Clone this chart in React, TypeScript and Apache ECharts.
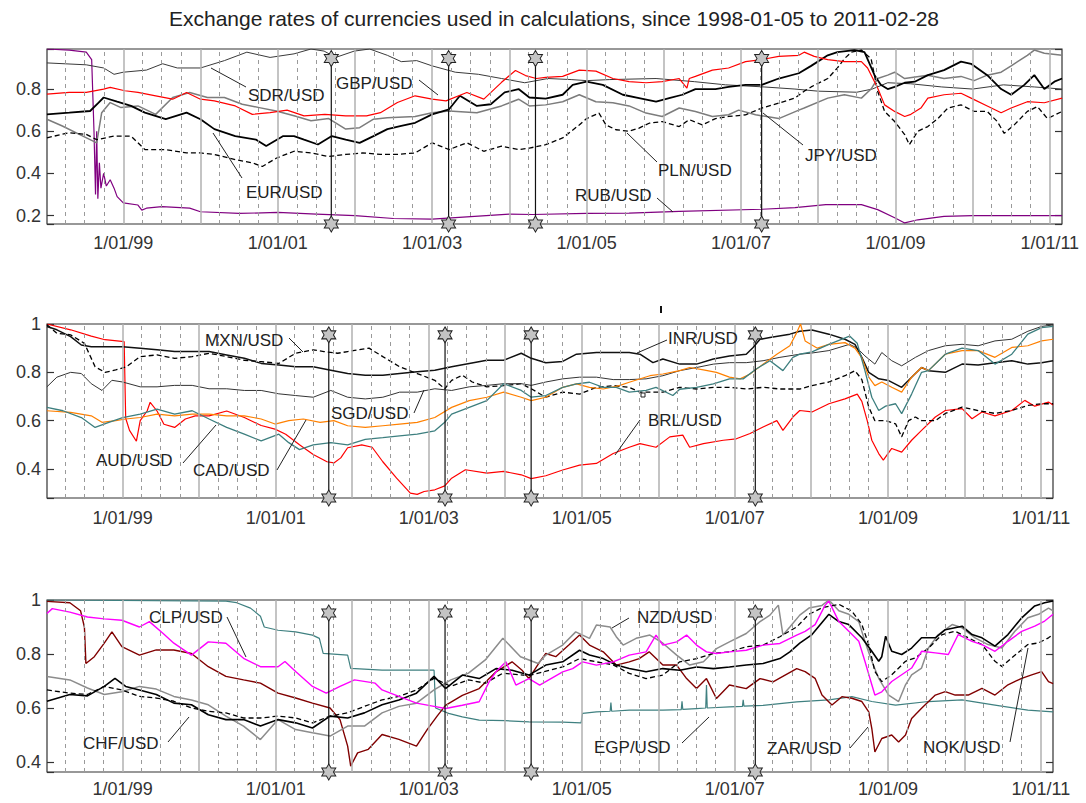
import React, { useEffect, useRef } from 'react';
import * as echarts from 'echarts';

const TITLE = 'Exchange rates of currencies used in calculations, since 1998-01-05 to 2011-02-28';
const START = [1998, 0, 5];
const END = [2011, 1, 28];
const xTickYears = [1999, 2001, 2003, 2005, 2007, 2009, 2011];
const xTickLabels = ['1/01/99', '1/01/01', '1/01/03', '1/01/05', '1/01/07', '1/01/09', '1/01/11'];
const eventDates = [[2001, 8, 11], [2003, 2, 20], [2004, 4, 4], [2007, 3, 9]];
const panelRanges = [[0.16, 0.99], [0.28, 1.0], [0.363, 1.0]];
const eventTopValues = [0.945, 0.955, 0.952];

// ---- Panel 1 (decimal year, normalised rate)
const rub = [[1998.01,0.99],[1998.3,0.985],[1998.52,0.975],[1998.59,0.94],[1998.62,0.6],[1998.64,0.3],[1998.655,0.6],[1998.67,0.28],[1998.69,0.45],[1998.71,0.33],[1998.745,0.4],[1998.78,0.34],[1998.83,0.37],[1998.88,0.33],[1998.92,0.29],[1999.0,0.26],[1999.19,0.25],[1999.24,0.226],[1999.3,0.235],[1999.5,0.242],[1999.86,0.235],[2000.0,0.218],[2000.5,0.21],[2001.0,0.215],[2001.5,0.207],[2002.0,0.2],[2002.5,0.186],[2003.0,0.183],[2003.5,0.195],[2004.0,0.207],[2004.3,0.205],[2005.0,0.21],[2005.55,0.212],[2006.2,0.22],[2007.27,0.23],[2007.7,0.238],[2008.1,0.252],[2008.56,0.252],[2008.77,0.228],[2008.99,0.19],[2009.12,0.165],[2009.29,0.18],[2009.63,0.196],[2010.0,0.2],[2011.16,0.2]];
const sdr = [[1998.01,0.924],[1998.52,0.915],[1998.745,0.9],[1998.88,0.87],[1999.0,0.88],[1999.3,0.89],[1999.51,0.92],[1999.7,0.9],[2000.0,0.9],[2000.31,0.935],[2000.6,0.975],[2000.9,0.95],[2001.21,0.967],[2001.43,0.99],[2001.6,0.98],[2001.75,0.95],[2001.99,0.98],[2002.19,0.99],[2002.42,0.96],[2002.6,0.93],[2002.8,0.935],[2003.0,0.91],[2003.3,0.88],[2003.6,0.87],[2003.9,0.85],[2004.2,0.83],[2004.5,0.85],[2004.8,0.845],[2005.0,0.84],[2005.3,0.845],[2005.9,0.85],[2006.4,0.835],[2006.8,0.82],[2007.3,0.81],[2007.7,0.8],[2008.0,0.79],[2008.5,0.785],[2008.7,0.8],[2008.9,0.83],[2009.2,0.825],[2009.6,0.81],[2010.0,0.8],[2010.4,0.82],[2010.8,0.81],[2011.16,0.8]];
const gbp = [[1998.01,0.776],[1998.3,0.784],[1998.52,0.784],[1998.745,0.8],[1998.83,0.808],[1999.02,0.792],[1999.19,0.784],[1999.42,0.768],[1999.64,0.752],[1999.82,0.784],[2000.0,0.752],[2000.18,0.744],[2000.45,0.72],[2000.67,0.68],[2000.9,0.688],[2001.12,0.7],[2001.34,0.673],[2001.61,0.68],[2001.88,0.673],[2002.15,0.673],[2002.33,0.688],[2002.55,0.736],[2002.78,0.768],[2003.0,0.752],[2003.18,0.744],[2003.45,0.784],[2003.67,0.752],[2003.9,0.832],[2004.08,0.888],[2004.21,0.864],[2004.35,0.85],[2004.47,0.855],[2004.69,0.86],[2004.905,0.89],[2005.12,0.885],[2005.34,0.85],[2005.55,0.835],[2005.77,0.83],[2005.98,0.835],[2006.2,0.85],[2006.3,0.805],[2006.33,0.85],[2006.41,0.86],[2006.63,0.89],[2006.84,0.9],[2007.06,0.93],[2007.27,0.94],[2007.49,0.955],[2007.75,0.96],[2007.82,0.975],[2007.95,0.955],[2008.125,0.94],[2008.34,0.93],[2008.56,0.93],[2008.64,0.9],[2008.77,0.805],[2008.86,0.725],[2008.99,0.694],[2009.12,0.67],[2009.2,0.68],[2009.33,0.71],[2009.42,0.757],[2009.63,0.773],[2009.85,0.78],[2010.02,0.75],[2010.19,0.72],[2010.37,0.688],[2010.5,0.71],[2010.71,0.74],[2010.93,0.735],[2011.16,0.757]];
const eur = [[1998.01,0.68],[1998.3,0.688],[1998.57,0.696],[1998.68,0.736],[1998.745,0.76],[1998.92,0.74],[1999.1,0.72],[1999.28,0.688],[1999.55,0.657],[1999.82,0.688],[2000.0,0.657],[2000.18,0.61],[2000.45,0.577],[2000.72,0.56],[2000.85,0.53],[2001.07,0.577],[2001.21,0.577],[2001.34,0.56],[2001.52,0.537],[2001.7,0.577],[2001.88,0.56],[2002.06,0.545],[2002.24,0.577],[2002.42,0.61],[2002.6,0.625],[2002.78,0.64],[2003.0,0.68],[2003.22,0.704],[2003.36,0.768],[2003.58,0.72],[2003.76,0.728],[2003.94,0.784],[2004.12,0.8],[2004.26,0.76],[2004.47,0.755],[2004.69,0.773],[2004.82,0.82],[2005.0,0.835],[2005.21,0.82],[2005.47,0.773],[2005.68,0.757],[2005.9,0.74],[2006.07,0.757],[2006.24,0.773],[2006.41,0.8],[2006.67,0.8],[2006.84,0.81],[2007.06,0.82],[2007.27,0.82],[2007.49,0.85],[2007.75,0.875],[2007.91,0.91],[2008.125,0.96],[2008.25,0.975],[2008.47,0.985],[2008.6,0.975],[2008.73,0.866],[2008.81,0.82],[2008.9,0.8],[2008.99,0.81],[2009.12,0.83],[2009.25,0.835],[2009.42,0.866],[2009.63,0.89],[2009.85,0.93],[2009.98,0.92],[2010.19,0.866],[2010.37,0.8],[2010.5,0.773],[2010.67,0.82],[2010.8,0.866],[2010.93,0.8],[2011.06,0.835],[2011.16,0.85]];
const jpy = [[1998.01,0.657],[1998.21,0.625],[1998.43,0.585],[1998.655,0.545],[1998.72,0.688],[1998.83,0.736],[1998.97,0.712],[1999.19,0.72],[1999.42,0.68],[1999.64,0.76],[1999.86,0.784],[2000.09,0.76],[2000.31,0.76],[2000.54,0.728],[2000.76,0.712],[2000.98,0.696],[2001.21,0.673],[2001.43,0.65],[2001.66,0.66],[2001.88,0.61],[2002.06,0.617],[2002.24,0.657],[2002.42,0.664],[2002.78,0.67],[2003.0,0.688],[2003.22,0.696],[2003.58,0.688],[2003.9,0.72],[2004.12,0.752],[2004.26,0.72],[2004.47,0.725],[2004.69,0.74],[2004.905,0.773],[2005.12,0.74],[2005.34,0.735],[2005.55,0.72],[2005.77,0.686],[2005.98,0.67],[2006.2,0.71],[2006.41,0.694],[2006.63,0.67],[2006.84,0.678],[2006.97,0.7],[2007.19,0.678],[2007.49,0.66],[2007.75,0.7],[2007.82,0.71],[2008.125,0.757],[2008.34,0.773],[2008.56,0.757],[2008.685,0.8],[2008.77,0.85],[2008.9,0.866],[2008.99,0.88],[2009.12,0.85],[2009.42,0.866],[2009.63,0.85],[2009.85,0.86],[2010.02,0.84],[2010.19,0.866],[2010.37,0.88],[2010.5,0.91],[2010.71,0.96],[2010.8,0.985],[2010.93,0.97],[2011.16,0.96]];
const pln = [[1998.01,0.569],[1998.3,0.593],[1998.52,0.585],[1998.655,0.56],[1998.88,0.577],[1999.1,0.577],[1999.28,0.513],[1999.55,0.513],[1999.82,0.497],[2000.0,0.497],[2000.18,0.49],[2000.45,0.465],[2000.67,0.45],[2000.8,0.433],[2000.985,0.473],[2001.21,0.505],[2001.43,0.497],[2001.66,0.48],[2001.88,0.49],[2002.1,0.497],[2002.33,0.49],[2002.55,0.49],[2002.78,0.497],[2003.0,0.545],[2003.22,0.513],[2003.45,0.545],[2003.67,0.505],[2003.9,0.529],[2004.12,0.513],[2004.26,0.52],[2004.47,0.536],[2004.69,0.568],[2004.905,0.63],[2005.0,0.66],[2005.16,0.686],[2005.25,0.63],[2005.38,0.607],[2005.55,0.6],[2005.68,0.615],[2005.81,0.638],[2005.98,0.646],[2006.2,0.622],[2006.33,0.655],[2006.5,0.63],[2006.67,0.66],[2006.84,0.67],[2007.06,0.678],[2007.27,0.71],[2007.49,0.733],[2007.7,0.757],[2007.82,0.79],[2007.91,0.81],[2008.125,0.85],[2008.25,0.9],[2008.34,0.944],[2008.43,0.975],[2008.56,0.985],[2008.685,0.944],[2008.77,0.79],[2008.86,0.694],[2008.99,0.646],[2009.12,0.584],[2009.18,0.536],[2009.29,0.6],[2009.42,0.622],[2009.55,0.66],[2009.68,0.71],[2009.85,0.725],[2010.02,0.694],[2010.19,0.694],[2010.32,0.646],[2010.41,0.59],[2010.54,0.63],[2010.71,0.694],[2010.84,0.717],[2010.97,0.66],[2011.16,0.694]];

// ---- Panel 2
const brl = [[1998.01,1.0],[1998.32,0.976],[1998.59,0.95],[1998.77,0.935],[1999.02,0.927],[1999.04,0.61],[1999.09,0.56],[1999.18,0.515],[1999.23,0.6],[1999.32,0.64],[1999.36,0.676],[1999.45,0.64],[1999.54,0.585],[1999.68,0.572],[1999.82,0.607],[1999.95,0.62],[2000.13,0.62],[2000.36,0.64],[2000.59,0.613],[2000.81,0.58],[2000.99,0.565],[2001.13,0.544],[2001.31,0.5],[2001.49,0.46],[2001.67,0.43],[2001.76,0.425],[2001.85,0.446],[2001.94,0.488],[2002.125,0.5],[2002.26,0.49],[2002.4,0.43],[2002.58,0.362],[2002.76,0.3],[2002.85,0.295],[2002.94,0.307],[2003.08,0.314],[2003.21,0.33],[2003.3,0.362],[2003.48,0.397],[2003.76,0.383],[2003.98,0.39],[2004.21,0.376],[2004.34,0.36],[2004.53,0.372],[2004.75,0.396],[2004.97,0.416],[2005.19,0.423],[2005.41,0.464],[2005.62,0.49],[2005.76,0.505],[2005.97,0.49],[2006.15,0.533],[2006.32,0.54],[2006.41,0.49],[2006.59,0.505],[2006.85,0.519],[2007.02,0.525],[2007.2,0.547],[2007.37,0.574],[2007.55,0.6],[2007.63,0.56],[2007.76,0.615],[2007.85,0.642],[2008.01,0.636],[2008.23,0.67],[2008.44,0.69],[2008.6,0.71],[2008.66,0.68],[2008.73,0.6],[2008.79,0.519],[2008.88,0.464],[2008.94,0.437],[2009.05,0.485],[2009.18,0.47],[2009.31,0.519],[2009.44,0.56],[2009.62,0.615],[2009.75,0.642],[2009.97,0.65],[2010.1,0.608],[2010.23,0.636],[2010.4,0.62],[2010.62,0.642],[2010.79,0.684],[2010.92,0.66],[2011.1,0.677],[2011.16,0.665]];
const inr = [[1998.01,0.99],[1998.14,0.976],[1998.32,0.948],[1998.46,0.913],[1998.59,0.906],[1998.77,0.906],[1999.0,0.906],[1999.23,0.9],[1999.45,0.893],[1999.68,0.886],[2000.13,0.886],[2000.36,0.872],[2000.59,0.858],[2000.81,0.837],[2001.04,0.83],[2001.26,0.823],[2001.49,0.823],[2001.72,0.809],[2001.94,0.795],[2002.17,0.788],[2002.4,0.788],[2002.62,0.795],[2002.85,0.802],[2003.08,0.809],[2003.3,0.823],[2003.53,0.837],[2003.76,0.85],[2003.98,0.85],[2004.21,0.879],[2004.34,0.858],[2004.53,0.84],[2004.75,0.845],[2004.93,0.875],[2005.19,0.882],[2005.62,0.882],[2005.76,0.875],[2005.93,0.84],[2006.06,0.855],[2006.28,0.834],[2006.5,0.834],[2006.72,0.855],[2006.93,0.868],[2007.15,0.875],[2007.24,0.903],[2007.33,0.937],[2007.46,0.944],[2007.72,0.958],[2007.85,0.97],[2008.01,0.975],[2008.23,0.958],[2008.44,0.937],[2008.57,0.916],[2008.66,0.862],[2008.75,0.8],[2008.88,0.773],[2009.01,0.766],[2009.18,0.738],[2009.31,0.78],[2009.44,0.82],[2009.53,0.807],[2009.75,0.8],[2009.97,0.834],[2010.18,0.83],[2010.4,0.84],[2010.62,0.848],[2010.83,0.834],[2011.01,0.84],[2011.16,0.848]];
const sgd = [[1998.01,0.74],[1998.14,0.78],[1998.32,0.8],[1998.46,0.795],[1998.59,0.753],[1998.73,0.725],[1998.86,0.767],[1999.0,0.76],[1999.23,0.74],[1999.45,0.74],[1999.68,0.746],[1999.91,0.746],[2000.13,0.732],[2000.36,0.732],[2000.59,0.725],[2000.81,0.725],[2001.04,0.711],[2001.26,0.704],[2001.49,0.697],[2001.72,0.725],[2001.94,0.697],[2002.17,0.69],[2002.4,0.697],[2002.62,0.718],[2002.85,0.718],[2003.08,0.732],[2003.3,0.725],[2003.53,0.74],[2003.76,0.746],[2003.98,0.753],[2004.21,0.753],[2004.34,0.746],[2004.53,0.76],[2004.75,0.773],[2004.97,0.78],[2005.19,0.78],[2005.41,0.77],[2005.62,0.77],[2005.84,0.773],[2006.06,0.786],[2006.28,0.807],[2006.5,0.82],[2006.72,0.834],[2006.93,0.84],[2007.15,0.84],[2007.37,0.848],[2007.59,0.862],[2007.85,0.875],[2008.01,0.88],[2008.23,0.89],[2008.5,0.916],[2008.6,0.9],[2008.7,0.868],[2008.83,0.834],[2008.92,0.882],[2009.05,0.848],[2009.18,0.827],[2009.36,0.862],[2009.53,0.89],[2009.75,0.91],[2009.97,0.916],[2010.18,0.91],[2010.4,0.93],[2010.62,0.937],[2010.83,0.97],[2011.01,0.99],[2011.16,0.996]];
const mxn = [[1998.01,0.997],[1998.14,0.962],[1998.32,0.955],[1998.5,0.92],[1998.64,0.823],[1998.77,0.8],[1998.91,0.81],[1999.05,0.823],[1999.23,0.865],[1999.45,0.872],[1999.68,0.858],[1999.91,0.865],[2000.13,0.879],[2000.36,0.865],[2000.59,0.85],[2000.81,0.844],[2001.04,0.837],[2001.26,0.879],[2001.49,0.893],[2001.63,0.886],[2001.81,0.879],[2001.94,0.886],[2002.22,0.9],[2002.4,0.865],[2002.62,0.823],[2002.85,0.795],[2003.08,0.767],[2003.21,0.732],[2003.3,0.767],[2003.44,0.788],[2003.57,0.76],[2003.76,0.74],[2003.98,0.745],[2004.21,0.753],[2004.34,0.732],[2004.53,0.697],[2004.75,0.718],[2004.97,0.71],[2005.19,0.738],[2005.41,0.745],[2005.62,0.738],[2005.76,0.718],[2006.06,0.718],[2006.28,0.738],[2006.5,0.731],[2006.72,0.738],[2006.93,0.738],[2007.15,0.731],[2007.37,0.738],[2007.59,0.731],[2007.85,0.731],[2008.01,0.745],[2008.23,0.76],[2008.44,0.786],[2008.57,0.807],[2008.66,0.77],[2008.75,0.656],[2008.83,0.6],[2008.97,0.6],[2009.1,0.587],[2009.18,0.533],[2009.27,0.6],[2009.36,0.615],[2009.44,0.6],[2009.62,0.6],[2009.75,0.63],[2009.97,0.656],[2010.18,0.642],[2010.4,0.63],[2010.62,0.642],[2010.83,0.663],[2011.01,0.67],[2011.16,0.67]];
const cad = [[1998.01,0.641],[1998.32,0.634],[1998.59,0.62],[1998.73,0.593],[1998.91,0.6],[1999.04,0.607],[1999.23,0.613],[1999.45,0.627],[1999.68,0.62],[1999.91,0.627],[2000.13,0.627],[2000.36,0.62],[2000.59,0.62],[2000.81,0.607],[2000.99,0.586],[2001.17,0.6],[2001.36,0.607],[2001.58,0.593],[2001.76,0.6],[2001.94,0.579],[2002.17,0.572],[2002.4,0.579],[2002.62,0.586],[2002.85,0.593],[2003.08,0.613],[2003.3,0.655],[2003.53,0.683],[2003.76,0.697],[2003.98,0.718],[2004.21,0.697],[2004.34,0.683],[2004.53,0.697],[2004.75,0.738],[2004.93,0.752],[2005.1,0.738],[2005.28,0.731],[2005.49,0.745],[2005.62,0.759],[2005.89,0.786],[2006.06,0.793],[2006.28,0.807],[2006.41,0.82],[2006.59,0.81],[2006.76,0.8],[2006.93,0.78],[2007.07,0.773],[2007.2,0.793],[2007.37,0.834],[2007.55,0.875],[2007.72,0.91],[2007.8,0.958],[2007.86,1.0],[2007.92,0.93],[2008.08,0.9],[2008.23,0.916],[2008.44,0.923],[2008.57,0.9],[2008.66,0.86],[2008.75,0.78],[2008.83,0.745],[2008.92,0.76],[2009.05,0.738],[2009.18,0.718],[2009.31,0.78],[2009.44,0.82],[2009.53,0.807],[2009.75,0.875],[2009.97,0.89],[2010.18,0.89],[2010.4,0.862],[2010.62,0.903],[2010.83,0.91],[2011.01,0.93],[2011.16,0.937]];
const aud = [[1998.01,0.655],[1998.22,0.641],[1998.46,0.613],[1998.64,0.572],[1998.82,0.593],[1999.0,0.613],[1999.23,0.627],[1999.45,0.648],[1999.68,0.627],[1999.91,0.641],[2000.13,0.607],[2000.36,0.572],[2000.59,0.544],[2000.81,0.516],[2001.04,0.544],[2001.17,0.509],[2001.31,0.48],[2001.49,0.5],[2001.72,0.509],[2001.94,0.5],[2002.17,0.523],[2002.4,0.53],[2002.62,0.537],[2002.85,0.544],[2003.08,0.558],[2003.21,0.593],[2003.3,0.627],[2003.53,0.655],[2003.76,0.683],[2003.98,0.753],[2004.21,0.725],[2004.34,0.697],[2004.53,0.704],[2004.75,0.738],[2004.93,0.752],[2005.1,0.759],[2005.28,0.738],[2005.45,0.738],[2005.62,0.718],[2005.84,0.725],[2005.97,0.738],[2006.19,0.704],[2006.28,0.73],[2006.5,0.738],[2006.72,0.752],[2006.93,0.773],[2007.11,0.773],[2007.28,0.814],[2007.46,0.848],[2007.63,0.807],[2007.76,0.862],[2007.85,0.875],[2008.01,0.885],[2008.23,0.916],[2008.5,0.95],[2008.6,0.92],[2008.7,0.807],[2008.79,0.697],[2008.88,0.642],[2008.97,0.66],[2009.1,0.67],[2009.18,0.629],[2009.31,0.71],[2009.44,0.8],[2009.53,0.807],[2009.75,0.875],[2009.97,0.9],[2010.18,0.89],[2010.4,0.834],[2010.62,0.875],[2010.83,0.958],[2011.01,0.985],[2011.16,0.99]];

// ---- Panel 3
const egp = [[1998.01,1.0],[2000.35,0.996],[2000.49,0.99],[2000.67,0.97],[2000.8,0.94],[2000.85,0.9],[2001.03,0.888],[2001.26,0.882],[2001.48,0.87],[2001.57,0.858],[2001.62,0.802],[2001.94,0.796],[2001.98,0.747],[2002.39,0.74],[2003.07,0.74],[2003.09,0.6],[2003.26,0.58],[2003.44,0.567],[2003.66,0.555],[2004.0,0.553],[2004.31,0.549],[2004.75,0.548],[2004.99,0.545],[2005.01,0.58],[2005.19,0.586],[2005.37,0.588],[2005.38,0.62],[2005.39,0.588],[2005.62,0.592],[2006.06,0.592],[2006.3,0.594],[2006.31,0.625],[2006.32,0.595],[2006.5,0.598],[2006.62,0.6],[2006.63,0.685],[2006.64,0.6],[2006.93,0.604],[2007.1,0.606],[2007.11,0.63],[2007.12,0.607],[2007.37,0.61],[2007.81,0.623],[2008.23,0.63],[2008.53,0.642],[2008.79,0.624],[2009.1,0.611],[2009.53,0.624],[2009.97,0.63],[2010.4,0.611],[2010.83,0.592],[2011.16,0.586]];
const clp = [[1998.01,0.95],[1998.08,0.968],[1998.31,0.955],[1998.54,0.937],[1998.76,0.93],[1998.99,0.925],[1999.22,0.9],[1999.35,0.92],[1999.53,0.876],[1999.67,0.84],[1999.9,0.796],[2000.12,0.845],[2000.35,0.84],[2000.58,0.784],[2000.8,0.753],[2001.03,0.753],[2001.12,0.772],[2001.26,0.735],[2001.48,0.68],[2001.66,0.655],[2001.84,0.68],[2002.03,0.704],[2002.3,0.692],[2002.39,0.667],[2002.61,0.643],[2002.84,0.618],[2003.07,0.606],[2003.22,0.598],[2003.44,0.61],[2003.66,0.623],[2003.79,0.697],[2003.88,0.734],[2004.01,0.771],[2004.14,0.685],[2004.31,0.709],[2004.45,0.685],[2004.75,0.734],[2004.88,0.746],[2005.01,0.771],[2005.19,0.759],[2005.41,0.771],[2005.62,0.796],[2005.84,0.808],[2005.97,0.87],[2006.06,0.833],[2006.24,0.845],[2006.37,0.87],[2006.5,0.833],[2006.63,0.808],[2006.76,0.802],[2006.93,0.808],[2007.15,0.814],[2007.37,0.833],[2007.59,0.839],[2007.81,0.87],[2007.92,0.884],[2008.05,0.909],[2008.18,0.98],[2008.23,0.996],[2008.36,0.92],[2008.49,0.884],[2008.62,0.847],[2008.7,0.773],[2008.79,0.686],[2008.83,0.648],[2008.92,0.66],[2009.05,0.698],[2009.18,0.723],[2009.31,0.748],[2009.44,0.81],[2009.62,0.804],[2009.79,0.798],[2009.92,0.872],[2010.1,0.847],[2010.23,0.835],[2010.4,0.81],[2010.57,0.847],[2010.75,0.884],[2010.92,0.903],[2011.05,0.922],[2011.16,0.947]];
const zar = [[1998.01,0.995],[1998.31,0.99],[1998.45,0.96],[1998.5,0.9],[1998.52,0.765],[1998.63,0.79],[1998.76,0.84],[1998.86,0.882],[1998.99,0.827],[1999.22,0.796],[1999.44,0.815],[1999.67,0.815],[1999.9,0.802],[2000.12,0.753],[2000.35,0.717],[2000.58,0.704],[2000.8,0.692],[2001.03,0.655],[2001.26,0.637],[2001.48,0.618],[2001.71,0.6],[2001.84,0.557],[2001.94,0.459],[2001.98,0.385],[2002.07,0.434],[2002.21,0.447],[2002.39,0.502],[2002.61,0.484],[2002.84,0.459],[2002.98,0.52],[2003.11,0.57],[2003.22,0.61],[2003.44,0.647],[2003.66,0.672],[2003.88,0.734],[2004.09,0.771],[2004.22,0.74],[2004.31,0.709],[2004.45,0.771],[2004.53,0.802],[2004.66,0.79],[2004.83,0.833],[2004.97,0.87],[2005.1,0.833],[2005.28,0.808],[2005.45,0.759],[2005.62,0.771],[2005.75,0.783],[2005.88,0.808],[2006.06,0.759],[2006.24,0.759],[2006.37,0.709],[2006.5,0.672],[2006.63,0.709],[2006.76,0.635],[2006.93,0.685],[2007.15,0.672],[2007.33,0.709],[2007.5,0.697],[2007.81,0.746],[2007.92,0.735],[2008.05,0.71],[2008.14,0.648],[2008.27,0.611],[2008.4,0.642],[2008.53,0.636],[2008.66,0.624],[2008.75,0.586],[2008.79,0.524],[2008.83,0.437],[2008.92,0.487],[2009.05,0.5],[2009.14,0.474],[2009.23,0.5],[2009.31,0.561],[2009.44,0.599],[2009.62,0.648],[2009.75,0.661],[2009.88,0.648],[2010.05,0.648],[2010.23,0.673],[2010.4,0.648],[2010.57,0.686],[2010.75,0.71],[2010.88,0.723],[2011.01,0.735],[2011.1,0.698],[2011.16,0.69]];
const chf = [[1998.01,0.625],[1998.31,0.65],[1998.54,0.645],[1998.76,0.68],[1998.9,0.71],[1999.04,0.68],[1999.22,0.667],[1999.44,0.65],[1999.67,0.618],[1999.9,0.612],[2000.12,0.575],[2000.35,0.557],[2000.58,0.557],[2000.8,0.533],[2001.03,0.557],[2001.26,0.545],[2001.48,0.526],[2001.71,0.57],[2001.94,0.563],[2002.16,0.582],[2002.39,0.612],[2002.61,0.63],[2002.84,0.655],[2003.07,0.717],[2003.22,0.672],[2003.44,0.722],[2003.66,0.709],[2003.88,0.746],[2004.09,0.74],[2004.31,0.722],[2004.53,0.759],[2004.75,0.771],[2004.97,0.814],[2005.1,0.796],[2005.28,0.783],[2005.45,0.759],[2005.62,0.746],[2005.84,0.734],[2006.06,0.746],[2006.28,0.74],[2006.5,0.752],[2006.72,0.746],[2006.93,0.752],[2007.15,0.759],[2007.37,0.765],[2007.59,0.783],[2007.72,0.808],[2007.85,0.84],[2008.01,0.872],[2008.23,0.947],[2008.36,0.92],[2008.49,0.909],[2008.66,0.86],[2008.79,0.81],[2008.88,0.773],[2008.92,0.79],[2008.97,0.866],[2009.05,0.81],[2009.18,0.798],[2009.31,0.822],[2009.44,0.86],[2009.62,0.86],[2009.75,0.89],[2009.97,0.903],[2010.1,0.872],[2010.23,0.86],[2010.4,0.829],[2010.57,0.872],[2010.75,0.934],[2010.92,0.978],[2011.05,0.99],[2011.16,0.996]];
const nok = [[1998.01,0.667],[1998.31,0.655],[1998.54,0.65],[1998.76,0.68],[1998.99,0.667],[1999.22,0.643],[1999.44,0.637],[1999.67,0.625],[1999.9,0.6],[2000.12,0.588],[2000.35,0.582],[2000.58,0.563],[2000.8,0.563],[2001.03,0.57],[2001.26,0.563],[2001.48,0.545],[2001.71,0.57],[2001.94,0.582],[2002.16,0.606],[2002.39,0.63],[2002.61,0.643],[2002.84,0.667],[2003.07,0.71],[2003.29,0.68],[2003.52,0.704],[2003.74,0.692],[2003.97,0.729],[2004.2,0.723],[2004.31,0.72],[2004.75,0.752],[2004.97,0.783],[2005.19,0.771],[2005.41,0.76],[2005.62,0.728],[2005.84,0.709],[2006.06,0.722],[2006.28,0.771],[2006.5,0.783],[2006.72,0.802],[2006.93,0.808],[2007.15,0.827],[2007.37,0.833],[2007.59,0.864],[2007.81,0.9],[2007.97,0.947],[2008.14,0.971],[2008.36,0.984],[2008.53,0.959],[2008.66,0.909],[2008.75,0.835],[2008.83,0.735],[2008.92,0.698],[2009.05,0.723],[2009.23,0.773],[2009.36,0.786],[2009.53,0.822],[2009.71,0.872],[2009.88,0.884],[2010.05,0.86],[2010.23,0.835],[2010.4,0.773],[2010.49,0.754],[2010.62,0.786],[2010.83,0.835],[2010.97,0.841],[2011.1,0.86],[2011.16,0.872]];
const nzd = [[1998.01,0.717],[1998.31,0.704],[1998.54,0.674],[1998.76,0.65],[1998.99,0.66],[1999.22,0.68],[1999.44,0.67],[1999.67,0.643],[1999.9,0.63],[2000.12,0.612],[2000.35,0.57],[2000.58,0.533],[2000.8,0.483],[2001.03,0.557],[2001.26,0.52],[2001.48,0.508],[2001.71,0.496],[2001.94,0.533],[2002.16,0.533],[2002.39,0.582],[2002.61,0.606],[2002.84,0.618],[2003.07,0.667],[2003.29,0.704],[2003.52,0.729],[2003.74,0.778],[2003.97,0.858],[2004.2,0.79],[2004.43,0.765],[2004.53,0.796],[2004.75,0.833],[2004.92,0.882],[2005.1,0.858],[2005.19,0.907],[2005.37,0.9],[2005.45,0.864],[2005.54,0.833],[2005.71,0.858],[2005.89,0.87],[2006.06,0.84],[2006.24,0.796],[2006.41,0.759],[2006.59,0.771],[2006.76,0.82],[2006.93,0.845],[2007.15,0.876],[2007.33,0.92],[2007.46,0.944],[2007.57,0.981],[2007.63,0.87],[2007.72,0.9],[2007.85,0.944],[2007.97,0.97],[2008.14,0.98],[2008.23,1.0],[2008.36,0.96],[2008.49,0.947],[2008.62,0.92],[2008.7,0.847],[2008.79,0.773],[2008.88,0.71],[2009.01,0.648],[2009.14,0.624],[2009.23,0.686],[2009.31,0.723],[2009.44,0.748],[2009.53,0.822],[2009.66,0.872],[2009.84,0.909],[2009.97,0.897],[2010.14,0.86],[2010.31,0.835],[2010.49,0.822],[2010.66,0.884],[2010.83,0.934],[2010.97,0.947],[2011.1,0.97],[2011.16,0.96]];

const FONT = '"Liberation Sans", Arial, sans-serif';

const toTime = (y: number) => {
  const Y = Math.floor(y);
  const a = Date.UTC(Y, 0, 1);
  const b = Date.UTC(Y + 1, 0, 1);
  return a + (y - Y) * (b - a);
};
const conv = (arr: number[][]) => arr.map((p) => [toTime(p[0]), p[1]]);

const panels = [
  [
    { name: 'RUB/USD', data: rub, color: '#800080', width: 1.2 },
    { name: 'SDR/USD', data: sdr, color: '#3a3a3a', width: 1 },
    { name: 'JPY/USD', data: jpy, color: '#7c7c7c', width: 1.5 },
    { name: 'PLN/USD', data: pln, color: '#000000', width: 1.3, dash: true },
    { name: 'EUR/USD', data: eur, color: '#000000', width: 1.8 },
    { name: 'GBP/USD', data: gbp, color: '#ff0000', width: 1.2 },
  ],
  [
    { name: 'BRL/USD', data: brl, color: '#ff0000', width: 1.2 },
    { name: 'MXN/USD', data: mxn, color: '#000000', width: 1.3, dash: true },
    { name: 'SGD/USD', data: sgd, color: '#333333', width: 1 },
    { name: 'INR/USD', data: inr, color: '#111111', width: 1.5 },
    { name: 'CAD/USD', data: cad, color: '#ff8000', width: 1.2 },
    { name: 'AUD/USD', data: aud, color: '#3d7f7f', width: 1.3 },
  ],
  [
    { name: 'EGP/USD', data: egp, color: '#3f8080', width: 1.2 },
    { name: 'ZAR/USD', data: zar, color: '#800000', width: 1.4 },
    { name: 'NZD/USD', data: nzd, color: '#8c8c8c', width: 1.5 },
    { name: 'NOK/USD', data: nok, color: '#000000', width: 1.3, dash: true },
    { name: 'CHF/USD', data: chf, color: '#000000', width: 1.6 },
    { name: 'CLP/USD', data: clp, color: '#ff00ff', width: 1.4 },
  ],
];

const grids = [
  { left: 47, top: 49, width: 1015, height: 175 },
  { left: 47, top: 324, width: 1006, height: 174 },
  { left: 47, top: 600, width: 1006, height: 172 },
];

const labelDefs = [
  { text: 'SDR/USD', x: 248, y: 95, l: [246, 87, 211, 68] },
  { text: 'GBP/USD', x: 336, y: 83, l: [419, 80, 438, 95] },
  { text: 'EUR/USD', x: 246, y: 192, l: [242, 178, 213, 133] },
  { text: 'PLN/USD', x: 658, y: 170, l: [657, 162, 627, 133] },
  { text: 'RUB/USD', x: 575, y: 195, l: [657, 198, 673, 212] },
  { text: 'JPY/USD', x: 805, y: 155, l: [803, 145, 763, 113] },
  { text: 'MXN/USD', x: 205, y: 340, l: [289, 338, 303, 352] },
  { text: 'INR/USD', x: 668, y: 338, l: [667, 340, 637, 353] },
  { text: 'SGD/USD', x: 331, y: 413, l: [414, 413, 424, 390] },
  { text: 'AUD/USD', x: 96, y: 460, l: [183, 463, 216, 425] },
  { text: 'CAD/USD', x: 193, y: 470, l: [277, 470, 306, 420] },
  { text: 'BRL/USD', x: 648, y: 420, l: [640, 420, 615, 455] },
  { text: 'CLP/USD', x: 149, y: 617, l: [227, 617, 246, 657] },
  { text: 'CHF/USD', x: 83, y: 743, l: [168, 742, 189, 717] },
  { text: 'NZD/USD', x: 637, y: 617, l: [629, 618, 612, 628] },
  { text: 'EGP/USD', x: 594, y: 747, l: [682, 743, 709, 717] },
  { text: 'ZAR/USD', x: 767, y: 748, l: [850, 748, 868, 727] },
  { text: 'NOK/USD', x: 923, y: 747, l: [1010, 742, 1028, 648] },
];

const STAR = 'path://M10,0L12.89,5L18.66,5L15.77,10L18.66,15L12.89,15L10,20L7.11,15L1.34,15L4.23,10L1.34,5L7.11,5Z';

function buildOption() {
  const t0 = Date.UTC(START[0], START[1], START[2]);
  const t1 = Date.UTC(END[0], END[1], END[2]);
  const xAxis: any[] = [];
  const yAxis: any[] = [];
  const series: any[] = [];
  const fmt = (v: number) => {
    const k = v * 5;
    if (Math.abs(k - Math.round(k)) > 1e-6) return '';
    if (Math.abs(v - 1) < 1e-6) return '1';
    return v.toFixed(1);
  };
  const gridLines: any[] = [];
  for (let y = 1998; y <= 2011; y++) {
    if (y > 1998) gridLines.push({ xAxis: Date.UTC(y, 0, 1), lineStyle: { color: '#b0b0b0', width: 1.5, type: 'solid' } });
    for (const m of [3, 6, 9]) {
      const t = Date.UTC(y, m, 1);
      if (t < t1) gridLines.push({ xAxis: t, lineStyle: { color: '#9a9a9a', width: 1, type: [4, 4] } });
    }
  }
  grids.forEach((g, i) => {
    const [mn, mx] = panelRanges[i];
    xAxis.push({
      type: 'time', gridIndex: i, min: t0, max: t1,
      axisLabel: { show: false }, axisTick: { show: false }, axisLine: { show: false }, splitLine: { show: false },
    });
    const yBase = {
      type: 'value', gridIndex: i, min: mn, max: mx, splitNumber: 4,
      splitLine: { show: false }, axisLine: { show: false },
      axisTick: { show: true, inside: true, length: 7, lineStyle: { color: '#333', width: 1.2 } },
    };
    yAxis.push({ ...yBase, position: 'left', axisLabel: { formatter: fmt, color: '#333', fontSize: 18, fontFamily: FONT, margin: 6 } });
    yAxis.push({ ...yBase, position: 'right', axisLabel: { show: false } });
    series.push({
      type: 'line', xAxisIndex: i, yAxisIndex: i * 2, data: [[t0, mn]], symbol: 'none', silent: true,
      lineStyle: { opacity: 0 }, z: 1,
      markLine: { silent: true, symbol: ['none', 'none'], label: { show: false }, data: gridLines, animation: false },
    });
    panels[i].forEach((s: any) => {
      series.push({
        name: s.name, type: 'line', xAxisIndex: i, yAxisIndex: i * 2, data: conv(s.data),
        symbol: 'none', showSymbol: false, z: 3,
        lineStyle: { color: s.color, width: s.width, type: s.dash ? [5, 3] : 'solid' },
      });
    });
    eventDates.forEach((d) => {
      const t = Date.UTC(d[0], d[1], d[2]);
      series.push({
        type: 'line', xAxisIndex: i, yAxisIndex: i * 2, data: [[t, eventTopValues[i]], [t, mn]],
        symbol: STAR, symbolSize: [14, 16], showSymbol: true, clip: false, z: 5,
        lineStyle: { color: '#111', width: 1.2 },
        itemStyle: { color: '#c4c4c4', borderColor: '#222', borderWidth: 1 },
      });
    });
  });

  const graphic: any[] = [];
  graphic.push({
    type: 'text', x: 554, y: 18,
    style: { text: TITLE, textAlign: 'center', textVerticalAlign: 'middle', font: `21px ${FONT}`, fill: '#222' },
  });
  const labelY = [243, 518, 789];
  grids.forEach((g, i) => {
    xTickYears.forEach((yy, k) => {
      const t = Date.UTC(yy, 0, 1);
      const px = g.left + ((t - t0) / (t1 - t0)) * g.width;
      graphic.push({
        type: 'text', x: px, y: labelY[i],
        style: { text: xTickLabels[k], textAlign: 'center', textVerticalAlign: 'middle', font: `18px ${FONT}`, fill: '#333' },
      });
    });
  });
  labelDefs.forEach((d) => {
    graphic.push({
      type: 'text', x: d.x, y: d.y,
      style: { text: d.text, textAlign: 'left', textVerticalAlign: 'middle', font: `17px ${FONT}`, fill: '#222' },
      z: 20,
    });
    graphic.push({
      type: 'line', shape: { x1: d.l[0], y1: d.l[1], x2: d.l[2], y2: d.l[3] },
      style: { stroke: '#222', lineWidth: 1 }, z: 20,
    });
  });
  graphic.push({ type: 'rect', shape: { x: 641, y: 393, width: 4, height: 4 }, style: { fill: '#fff', stroke: '#222', lineWidth: 1 }, z: 20 });
  graphic.push({ type: 'line', shape: { x1: 661, y1: 306, x2: 661, y2: 313 }, style: { stroke: '#111', lineWidth: 2 }, z: 20 });

  return {
    animation: false,
    backgroundColor: '#ffffff',
    grid: grids.map((g) => ({ ...g, show: true, borderColor: '#333', borderWidth: 1.2, backgroundColor: 'transparent' })),
    xAxis, yAxis, series, graphic,
  };
}

export default function App() {
  const ref = useRef<HTMLDivElement>(null);
  useEffect(() => {
    if (!ref.current) return;
    const chart = echarts.init(ref.current, undefined, { renderer: 'svg' });
    chart.setOption(buildOption() as any);
    return () => chart.dispose();
  }, []);
  return (
    <div
      ref={ref}
      style={{ position: 'absolute', left: 0, top: 0, width: 1086, height: 803, background: '#fff' }}
    />
  );
}
